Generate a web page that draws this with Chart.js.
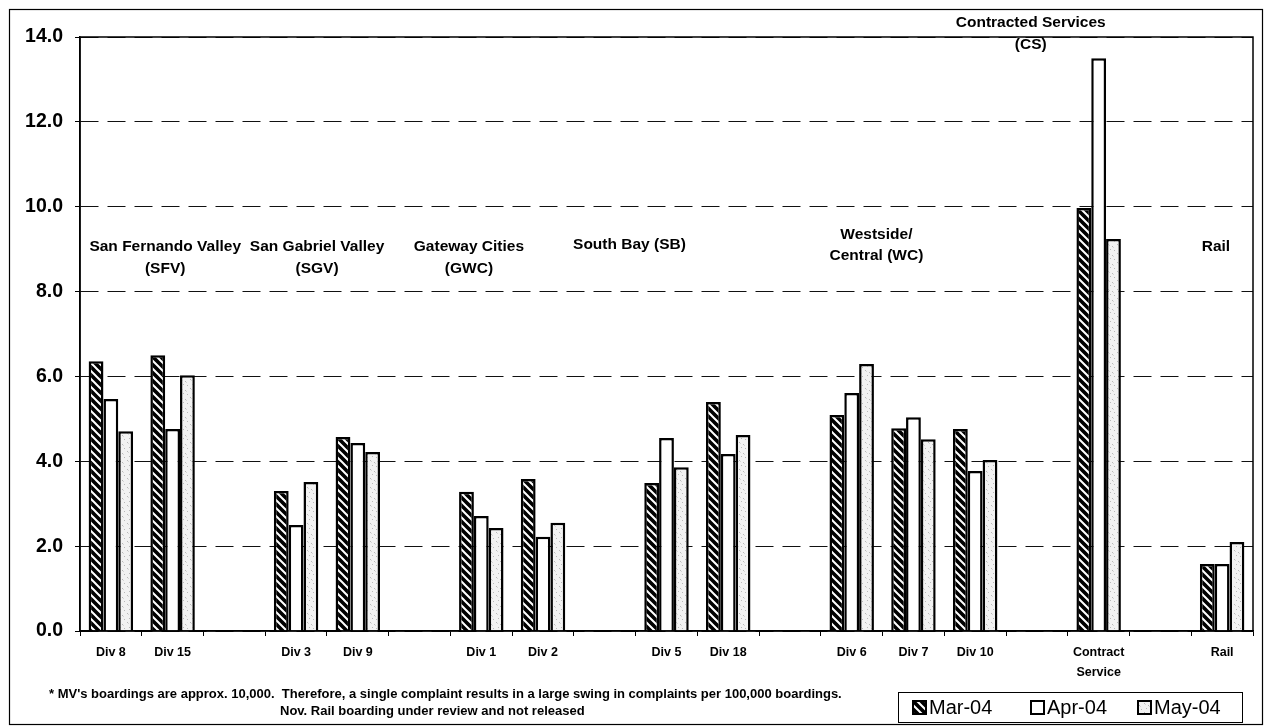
<!DOCTYPE html>
<html><head><meta charset="utf-8">
<script src="https://cdn.jsdelivr.net/npm/chart.js@4/dist/chart.umd.min.js"></script>
<style>html,body{margin:0;padding:0;background:#fff}canvas{display:block}</style>
</head><body>
<canvas id="c" width="1264" height="727"></canvas>
<script>
const categories = ['Div 8','Div 15','','Div 3','Div 9','','Div 1','Div 2','','Div 5','Div 18','','Div 6','Div 7','Div 10','',['Contract','Service'],'','Rail'];
const seriesNames = ['Mar-04','Apr-04','May-04'];
const mar04 = [6.36, 6.50, null, 3.30, 4.57, null, 3.28, 3.58, null, 3.49, 5.40, null, 5.09, 4.78, 4.76, null, 9.97, null, 1.58];
const apr04 = [5.47, 4.76, null, 2.50, 4.43, null, 2.71, 2.22, null, 4.55, 4.17, null, 5.61, 5.04, 3.77, null, 13.5, null, 1.58];
const may04 = [4.71, 6.03, null, 3.51, 4.22, null, 2.43, 2.55, null, 3.86, 4.62, null, 6.29, 4.52, 4.03, null, 9.24, null, 2.10];
const yTicks = [0, 2, 4, 6, 8, 10, 12, 14];
const groupLabels = [
  {lines:['San Fernando Valley','(SFV)'], at:0.88, y:9.05},
  {lines:['San Gabriel Valley','(SGV)'], at:3.34, y:9.05},
  {lines:['Gateway Cities','(GWC)'], at:5.8, y:9.05},
  {lines:['South Bay (SB)'], at:8.4, y:9.1},
  {lines:['Westside/','Central (WC)'], at:12.4, y:9.35},
  {lines:['Contracted Services','(CS)'], at:14.9, y:14.33},
  {lines:['Rail'], at:17.9, y:9.05}
];
const footnotes = ["* MV's boardings are approx. 10,000.  Therefore, a single complaint results in a large swing in complaints per 100,000 boardings.", "Nov. Rail boarding under review and not released"];

function stripePattern(){
  const c=document.createElement('canvas'); c.width=8; c.height=8;
  const g=c.getContext('2d');
  g.fillStyle='#000'; g.fillRect(0,0,8,8);
  g.strokeStyle='#fff'; g.lineWidth=2;
  g.beginPath();
  for(const o of [-8,0,8]){ g.moveTo(o-1,-1); g.lineTo(o+9,9); }
  g.stroke();
  return g.createPattern(c,'repeat');
}
function dotPattern(){
  const c=document.createElement('canvas'); c.width=9; c.height=9;
  const g=c.getContext('2d');
  g.fillStyle='#f2f2f2'; g.fillRect(0,0,9,9);
  g.fillStyle='#b8b8b8';
  g.fillRect(1,1,1,1); g.fillRect(5,3,1,1); g.fillRect(3,6,1,1); g.fillRect(7,7,1,1);
  g.fillStyle='#d6d6d6';
  g.fillRect(2,2,1,1); g.fillRect(6,4,1,1);
  return g.createPattern(c,'repeat');
}
const fills=[stripePattern(),'#ffffff',dotPattern()];
const FONT='"Liberation Sans", Arial, sans-serif';

const decor = {
  id:'decor',
  afterDraw(chart){
    const {ctx, chartArea:a, scales:{x,y}} = chart;
    ctx.save();
    ctx.strokeStyle='#000'; ctx.lineWidth=1.5;
    ctx.strokeRect(a.left, a.top, a.right-a.left, a.bottom-a.top);
    ctx.lineWidth=1.2;
    ctx.strokeRect(9.5, 9.5, 1253, 715);
    ctx.fillStyle='#000'; ctx.font='bold 15.5px '+FONT; ctx.textAlign='center'; ctx.textBaseline='middle';
    for(const g of groupLabels){
      const px=x.getPixelForValue(g.at), py=y.getPixelForValue(g.y);
      g.lines.forEach((t,i)=>ctx.fillText(t, px, py+i*21.5));
    }
    ctx.font='bold 13px '+FONT; ctx.textAlign='left';
    ctx.fillText(footnotes[0], 49, 694);
    ctx.fillText(footnotes[1], 280, 711);
    const L=898, T=692, R=1242, B=722;
    ctx.lineWidth=1; ctx.strokeStyle='#000';
    ctx.strokeRect(L+0.5, T+0.5, R-L, B-T);
    ctx.font='20px '+FONT; ctx.textAlign='left';
    const xs=[913, 1031, 1138];
    seriesNames.forEach((n,i)=>{
      ctx.fillStyle=fills[i];
      ctx.fillRect(xs[i], 701, 13, 13);
      ctx.lineWidth=2; ctx.strokeRect(xs[i], 701, 13, 13);
      ctx.fillStyle='#000';
      ctx.fillText(n, xs[i]+16, 708);
    });
    ctx.restore();
  }
};

new Chart(document.getElementById('c'), {
  type:'bar',
  data:{
    labels: categories,
    datasets:[
      {label:seriesNames[0], data:mar04, backgroundColor:fills[0], borderColor:'#000', borderWidth:2.5},
      {label:seriesNames[1], data:apr04, backgroundColor:fills[1], borderColor:'#000', borderWidth:2.5},
      {label:seriesNames[2], data:may04, backgroundColor:fills[2], borderColor:'#000', borderWidth:2.5}
    ]
  },
  options:{
    responsive:false, animation:false,
    layout:{padding:{top:37,right:11,left:0,bottom:0}},
    categoryPercentage:0.72, barPercentage:1.0,
    plugins:{legend:{display:false}, tooltip:{enabled:false}},
    scales:{
      x:{
        grid:{offset:true, drawOnChartArea:false, drawTicks:true, tickLength:5, tickColor:'#000'},
        border:{color:'#000', width:1.5},
        ticks:{autoSkip:false, maxRotation:0, padding:7, color:'#000', font:{family:FONT, size:12.5, weight:'bold', lineHeight:1.6}},
        afterFit(s){ s.height = 96; }
      },
      y:{
        min:0, max:14,
        afterBuildTicks(s){ s.ticks = yTicks.map(v=>({value:v})); },
        grid:{color:'#111', lineWidth:1, tickLength:5, tickColor:'#000', tickBorderDash:[]},
        border:{color:'#000', width:1.5, dash:[18,9]},
        ticks:{padding:12, color:'#000', font:{family:FONT, size:19.5, weight:'bold'}, callback:v=>Number(v).toFixed(1)},
        afterFit(s){ s.width = 80; }
      }
    }
  },
  plugins:[decor]
});
</script>
</body></html>
